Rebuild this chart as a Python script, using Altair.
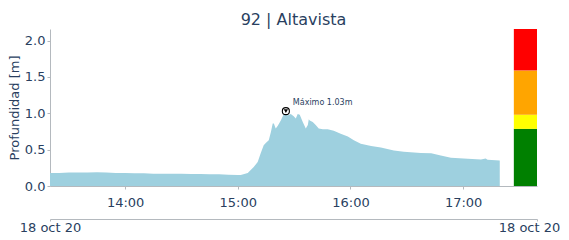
import altair as alt
import pandas as pd

DAY = "2020-10-18"

times = [
    "13:20:00", "13:25:00", "13:30:00", "13:35:00", "13:40:00", "13:45:00", "13:50:00",
    "13:55:00", "14:00:00", "14:05:00", "14:10:00", "14:15:00", "14:20:00", "14:25:00",
    "14:30:00", "14:35:00", "14:40:00", "14:45:00", "14:50:00", "14:55:00", "15:00:00",
    "15:01:36", "15:05:18", "15:08:30", "15:10:36", "15:12:12", "15:13:48", "15:14:54",
    "15:16:30", "15:17:36", "15:18:36", "15:19:12", "15:20:12", "15:21:18", "15:22:54",
    "15:24:30", "15:25:36", "15:26:36", "15:28:12", "15:29:48", "15:30:54", "15:31:54",
    "15:33:00", "15:34:36", "15:36:12", "15:37:18", "15:37:48", "15:38:18", "15:39:54",
    "15:41:30", "15:43:06", "15:45:18", "15:47:54", "15:51:06", "15:54:48", "15:58:36",
    "16:01:48", "16:05:30", "16:11:00", "16:16:12", "16:23:06", "16:28:24", "16:37:30",
    "16:43:00", "16:48:06", "16:53:30", "17:02:30", "17:09:30", "17:12:00", "17:13:00",
    "17:19:30",
]
depth = [
    0.18, 0.18, 0.185, 0.185, 0.185, 0.19, 0.185,
    0.18, 0.18, 0.175, 0.175, 0.17, 0.17, 0.17,
    0.17, 0.165, 0.165, 0.16, 0.16, 0.155, 0.15,
    0.15, 0.18, 0.26, 0.33, 0.45, 0.56, 0.59,
    0.63, 0.74, 0.86, 0.86, 0.79, 0.83, 0.90,
    0.99, 1.03, 0.97, 0.99, 0.96, 0.93, 0.99,
    0.98, 0.88, 0.79, 0.84, 0.92, 0.90, 0.88,
    0.84, 0.79, 0.78, 0.78, 0.76, 0.72, 0.68,
    0.63, 0.58, 0.55, 0.53, 0.49, 0.47, 0.455,
    0.45, 0.42, 0.39, 0.375, 0.365, 0.38, 0.36,
    0.35,
]

level_low = [0.0, 0.786, 0.98, 1.59]
level_high = [0.786, 0.98, 1.59, 2.16]
level_colors = ["#008000", "#ffff00", "#ffa500", "#ff0000"]

y_ticks = [0.0, 0.5, 1.0, 1.5, 2.0]
hour_ticks = [14, 15, 16, 17]
x_start = "13:20:00"
x_end = "17:39:20"
bar_start = "17:27:00"
y_max = 2.16

peak_time = "15:25:36"
peak_value = 1.03
peak_label = "Máximo 1.03m"
date_label = "18 oct 20"
title = "92 | Altavista"

TXT = "#2a3f5f"
AX = "#b4b9be"
FONT = "DejaVu Sans"


def ts(t):
    return f"{DAY}T{t}"


def dt(t):
    h, m, s = (int(p) for p in t.split(":"))
    return {"year": 2020, "month": 10, "date": 18, "hours": h, "minutes": m, "seconds": s}


df = pd.DataFrame({"t": [ts(t) for t in times], "v": depth})
levels = pd.DataFrame({
    "t0": [ts(bar_start)] * 4, "t1": [ts(x_end)] * 4,
    "lo": level_low, "hi": level_high, "c": level_colors,
})
peak = pd.DataFrame({"t": [ts(peak_time)], "v": [peak_value], "lab": [peak_label]})
ends = pd.DataFrame({"t": [ts(x_start), ts(x_end)]})

xscale = alt.Scale(domain=[dt(x_start), dt(x_end)], nice=False)
yscale = alt.Scale(domain=[0, y_max], nice=False)

xaxis = alt.Axis(
    title=None, format="%H:%M", grid=False,
    values=[dt(f"{h}:00:00") for h in hour_ticks],
    labelFont=FONT, labelFontSize=13, labelColor=TXT, labelPadding=7,
    domainColor=AX, tickColor=AX, tickSize=3, labelFlush=False, labelOverlap=False,
)
yaxis = alt.Axis(
    title="Profundidad [m]", values=y_ticks, tickCount=5, format=".1f", grid=False,
    labelFont=FONT, labelFontSize=13, labelColor=TXT, labelPadding=2, labelOverlap=False,
    titleFont=FONT, titleFontSize=13, titleFontWeight="normal", titleColor=TXT, titlePadding=3,
    domainColor=AX, tickColor=AX, tickSize=3,
)


def X(field):
    return alt.X(field, scale=xscale, axis=xaxis)


def Y(field):
    return alt.Y(field, scale=yscale, axis=yaxis)


area = alt.Chart(df).mark_area(color="#9ed0df", interpolate="linear").encode(
    x=X("t:T"), y=Y("v:Q"),
)

bars = alt.Chart(levels).mark_rect().encode(
    x=X("t0:T"), x2="t1:T",
    y=Y("lo:Q"), y2="hi:Q",
    color=alt.Color("c:N", scale=None),
)

ring = alt.Chart(peak).mark_point(shape="circle", size=50, filled=True, fill="white",
                                  stroke="black", strokeWidth=1.1, opacity=1).encode(
    x=X("t:T"), y=Y("v:Q"))
tri = alt.Chart(peak).mark_point(shape="triangle-down", size=18, filled=True, color="black",
                                 opacity=1).encode(
    x=X("t:T"), y=Y("v:Q"))
lab = alt.Chart(peak).mark_text(align="left", baseline="middle", dx=7, dy=-8, fontSize=8,
                                font=FONT, color=TXT).encode(
    x=X("t:T"), y=Y("v:Q"), text="lab:N")

main = alt.layer(area, bars, ring, tri, lab)

date_axis = alt.Chart(ends).mark_point(opacity=0).encode(
    x=alt.X("t:T", scale=xscale, axis=alt.Axis(
        title=None, orient="bottom", offset=33, grid=False,
        values=[dt(x_start), dt(x_end)],
        labelExpr=f"'{date_label}'", labelFont=FONT, labelFontSize=13, labelColor=TXT,
        labelFlush=False, labelAlign="center", labelPadding=0, labelOverlap=False,
        labelOffset={"condition": {"test": "datum.value > datetime(2020, 9, 18, 15, 0, 0)", "value": -8},
                     "value": 0},
        domainColor=AX, tickColor=AX, tickSize=2,
    )),
)

chart = alt.layer(main, date_axis).resolve_scale(x="independent").resolve_axis(x="independent").properties(
    width=487, height=157, padding={"left": 0, "top": 4, "right": 0, "bottom": 0},
    title=alt.TitleParams(title, font=FONT, fontSize=16, fontWeight="normal", color=TXT, offset=1),
).configure_view(stroke=None)

chart.save("out.html", embed_options={"renderer": "svg", "actions": False})
